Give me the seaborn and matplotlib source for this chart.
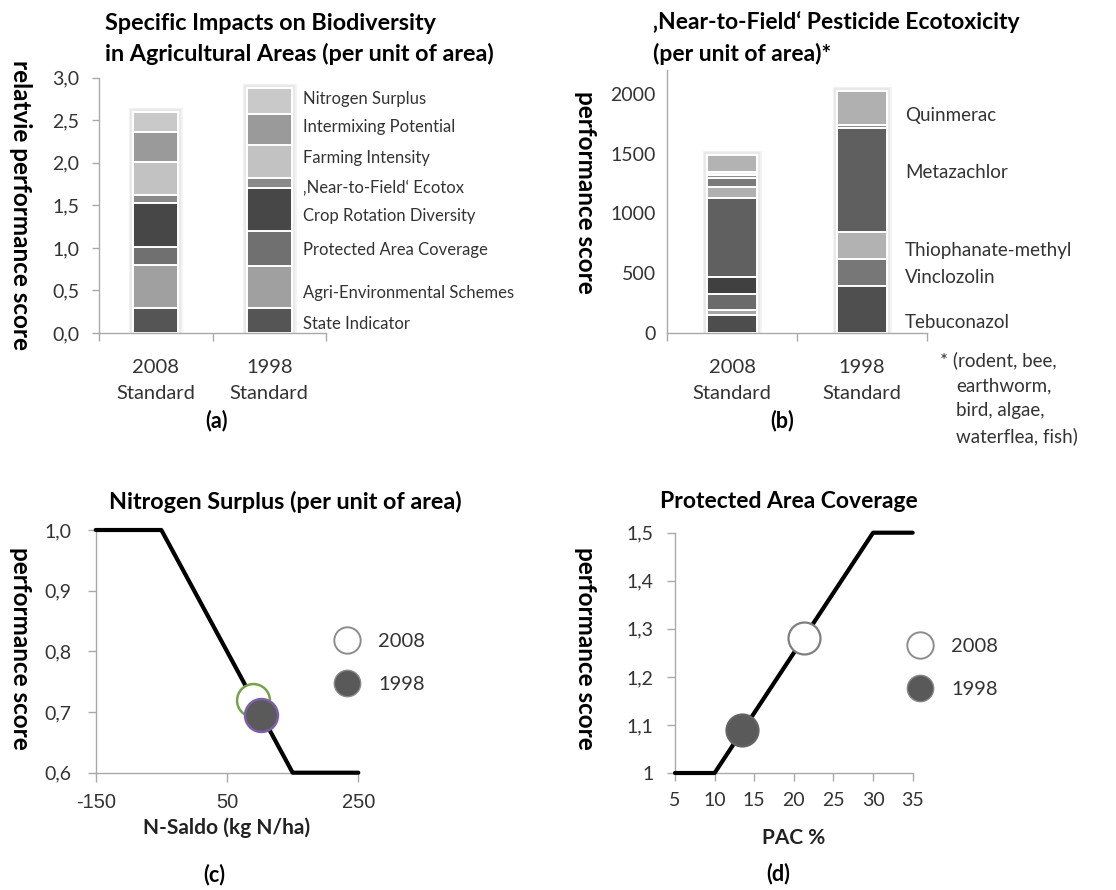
import numpy as np
import matplotlib
matplotlib.use("Agg")
import matplotlib.pyplot as plt
from matplotlib import patheffects as pe
from matplotlib.lines import Line2D
import seaborn as sns

sns.set_theme(style="white")
plt.rcParams["font.family"] = ["Lato", "DejaVu Sans"]

W, H = 1116, 890
SPINE = "#a9a9a9"
TICK_TXT = "#333333"

standards = ["2008\nStandard", "1998\nStandard"]

# (a) specific impacts on biodiversity, stacked bottom to top
indicators = ["State Indicator", "Agri-Environmental Schemes", "Protected Area Coverage",
              "Crop Rotation Diversity", "\u201aNear-to-Field\u2018 Ecotox", "Farming Intensity",
              "Intermixing Potential", "Nitrogen Surplus"]
impact_2008 = [0.29, 0.51, 0.21, 0.52, 0.09, 0.39, 0.35, 0.24]
impact_1998 = [0.29, 0.50, 0.41, 0.50, 0.125, 0.39, 0.36, 0.305]
impact_greys = ["#555555", "#a0a0a0", "#707070", "#474747", "#8a8a8a", "#c2c2c2", "#9a9a9a", "#c9c9c9"]
impact_label_y = [0.10, 0.47, 0.98, 1.37, 1.70, 2.06, 2.42, 2.75]
impact_ticks = [0, 0.5, 1.0, 1.5, 2.0, 2.5, 3.0]
impact_tick_labels = ["0,0", "0,5", "1,0", "1,5", "2,0", "2,5", "3,0"]

# (b) near-to-field pesticide ecotoxicity, stacked bottom to top
ecotox_2008 = [153, 41, 134, 141, 662, 94, 69, 26, 30, 140]
ecotox_2008_greys = ["#4d4d4d", "#a6a6a6", "#6b6b6b", "#404040", "#606060",
                     "#b0b0b0", "#7a7a7a", "#8c8c8c", "#f0f0f0", "#b3b3b3"]
ecotox_1998 = [394, 228, 220, 877, 25, 282]
ecotox_1998_greys = ["#4f4f4f", "#777777", "#b2b2b2", "#5f5f5f", "#8c8c8c", "#b0b0b0"]
pesticides = ["Tebuconazol", "Vinclozolin", "Thiophanate-methyl", "Metazachlor", "Quinmerac"]
pesticide_label_y = [86, 467, 686, 1342, 1817]
ecotox_ticks = [0, 500, 1000, 1500, 2000]
footnote = ["* (rodent, bee,", "earthworm,", "bird, algae,", "waterflea, fish)"]

# (c) nitrogen surplus scoring function
n_saldo = [-150, -50, 150, 250]
n_score = [1.0, 1.0, 0.6, 0.6]
n_ticks = [0.6, 0.7, 0.8, 0.9, 1.0]
n_tick_labels = ["0,6", "0,7", "0,8", "0,9", "1,0"]
n_xticks = [-150, 50, 250]
years = ["2008", "1998"]
n_year_x = [90, 102]
n_year_y = [0.72, 0.695]

# (d) protected area coverage scoring function
pac = [5, 10, 30, 35]
pac_score = [1.0, 1.0, 1.5, 1.5]
pac_ticks = [1.0, 1.1, 1.2, 1.3, 1.4, 1.5]
pac_tick_labels = ["1", "1,1", "1,2", "1,3", "1,4", "1,5"]
pac_xticks = [5, 10, 15, 20, 25, 30, 35]
pac_year_x = [21.3, 13.5]
pac_year_y = [1.28, 1.09]

fig = plt.figure(figsize=(W / 100, H / 100), dpi=100)


def px_axes(left, top, right, bottom):
    return fig.add_axes([left / W, 1 - bottom / H, (right - left) / W, (bottom - top) / H])


def ftext(x, y, s, **kw):
    return fig.text(x / W, 1 - y / H, s, **kw)


def style_axes(ax):
    sns.despine(ax=ax)
    for side in ("left", "bottom"):
        ax.spines[side].set_color(SPINE)
        ax.spines[side].set_linewidth(1.0)
    ax.tick_params(which="both", direction="out", color=SPINE, labelcolor=TICK_TXT, width=1.0)
    ax.set_xlabel("")
    ax.set_ylabel("")


def stack(ax, category, values, greys, width):
    tops = np.cumsum(values)
    # tallest column first, each shorter cumulative column painted over it
    for k in range(len(values) - 1, -1, -1):
        n0 = len(ax.patches)
        sns.barplot(x=[category], y=[tops[k]], order=standards, color=greys[k],
                    width=width, saturation=1, edgecolor="white", linewidth=1.4,
                    errorbar=None, ax=ax, zorder=2)
        if k == len(values) - 1:
            # soft shadow around the whole column
            for p in ax.patches[n0:]:
                p.set_path_effects([pe.Stroke(linewidth=6.5, foreground="#f4f4f4"),
                                    pe.Stroke(linewidth=4.5, foreground="#e9e9e9"),
                                    pe.Normal()])


def category_axis(ax, fontsize):
    ax.set_xlim(-0.5, 1.5)
    ax.set_xticks([0, 1], standards)
    ax.set_xticks([-0.5, 0.5, 1.5], minor=True)
    ax.tick_params(axis="x", which="major", bottom=True, length=0, pad=19, labelsize=fontsize)
    ax.tick_params(axis="x", which="minor", bottom=True, length=6)
    for lbl in ax.get_xticklabels():
        lbl.set_linespacing(1.6)


# ---------------- (a) ----------------
ax1 = px_axes(99, 77.7, 326, 333)
stack(ax1, standards[0], impact_2008, impact_greys, 0.40)
stack(ax1, standards[1], impact_1998, impact_greys, 0.40)
style_axes(ax1)
ax1.set_ylim(0, 3)
ax1.set_yticks(impact_ticks, impact_tick_labels)
ax1.tick_params(axis="y", left=True, length=5, pad=9, labelsize=14)
category_axis(ax1, 14.5)
for name, y in zip(indicators, impact_label_y):
    ax1.text(1.30, y, name, va="center", ha="left", fontsize=12, color="#333333", clip_on=False)

ftext(105, 23, "Specific Impacts on Biodiversity", ha="left", va="center",
      fontsize=16.8, fontweight="bold", color="black")
ftext(105, 54, "in Agricultural Areas (per unit of area)", ha="left", va="center",
      fontsize=16.8, fontweight="bold", color="black")
ftext(20, 205, "relatvie performance score", rotation=270, ha="center", va="center",
      fontsize=17.5, fontweight="bold", color="black")
ftext(216, 421, "(a)", ha="center", va="center", fontsize=15.5, fontweight="bold", color="black")

# ---------------- (b) ----------------
ax2 = px_axes(667, 70, 927, 333)
stack(ax2, standards[0], ecotox_2008, ecotox_2008_greys, 0.38)
stack(ax2, standards[1], ecotox_1998, ecotox_1998_greys, 0.38)
style_axes(ax2)
ax2.set_ylim(0, 2200)
ax2.set_yticks(ecotox_ticks, [str(t) for t in ecotox_ticks])
ax2.tick_params(axis="y", left=False, length=0, pad=8, labelsize=14)
category_axis(ax2, 14.5)
for name, y in zip(pesticides, pesticide_label_y):
    ax2.text(1.33, y, name, va="center", ha="left", fontsize=13.5, color="#333333", clip_on=False)

ftext(653, 22, "\u201aNear-to-Field\u2018 Pesticide Ecotoxicity", ha="left", va="center",
      fontsize=16.5, fontweight="bold", color="black")
ftext(653, 54, "(per unit of area)*", ha="left", va="center",
      fontsize=16.5, fontweight="bold", color="black")
ftext(585, 192, "performance score", rotation=270, ha="center", va="center",
      fontsize=17.5, fontweight="bold", color="black")
ftext(782, 421, "(b)", ha="center", va="center", fontsize=15.5, fontweight="bold", color="black")
for i, line in enumerate(footnote):
    ftext(940 if i == 0 else 956, 360 + 25.5 * i, line, ha="left", va="center",
          fontsize=13.5, color="#333333")

# ---------------- (c) ----------------
ax3 = px_axes(95.7, 530, 358.3, 772.7)
sns.lineplot(x=n_saldo, y=n_score, color="black", linewidth=3.0, ax=ax3, clip_on=False, zorder=3)
sns.scatterplot(x=[n_year_x[0]], y=[n_year_y[0]], s=560, color="white", edgecolor="#78a24a",
                linewidth=1.8, zorder=4, clip_on=False, ax=ax3, legend=False)
sns.scatterplot(x=[n_year_x[1]], y=[n_year_y[1]], s=560, color="#5a5a5a", edgecolor="#7b5fa8",
                linewidth=1.8, zorder=5, clip_on=False, ax=ax3, legend=False)
style_axes(ax3)
ax3.set_xlim(-150, 250)
ax3.set_ylim(0.6, 1.0)
ax3.set_yticks(n_ticks, n_tick_labels)
ax3.set_xticks(n_xticks, [str(t) for t in n_xticks])
ax3.tick_params(axis="y", left=True, length=5.5, pad=12, labelsize=14)
ax3.tick_params(axis="x", bottom=True, length=6.5, pad=8, labelsize=14.5)
for lbl in ax3.get_xticklabels():
    lbl.set_fontfamily(["Liberation Sans", "DejaVu Sans"])

ftext(285, 502, "Nitrogen Surplus (per unit of area)", ha="center", va="center",
      fontsize=16.8, fontweight="bold", color="black")
ftext(20, 648, "performance score", rotation=270, ha="center", va="center",
      fontsize=17.5, fontweight="bold", color="black")
ftext(227, 828, "N-Saldo (kg N/ha)", ha="center", va="center",
      fontsize=15, fontweight="bold", color="#222222")
ftext(214, 875, "(c)", ha="center", va="center", fontsize=15.5, fontweight="bold", color="black")

# ---------------- (d) ----------------
ax4 = px_axes(675, 532.7, 912.7, 773)
sns.lineplot(x=pac, y=pac_score, color="black", linewidth=3.0, ax=ax4, clip_on=False, zorder=3)
sns.scatterplot(x=[pac_year_x[0]], y=[pac_year_y[0]], s=530, color="white", edgecolor="#7f7f7f",
                linewidth=1.6, zorder=4, clip_on=False, ax=ax4, legend=False)
sns.scatterplot(x=[pac_year_x[1]], y=[pac_year_y[1]], s=530, color="#5a5a5a", edgecolor="#636363",
                linewidth=1.6, zorder=5, clip_on=False, ax=ax4, legend=False)
style_axes(ax4)
ax4.set_xlim(5, 35)
ax4.set_ylim(1.0, 1.5)
ax4.set_yticks(pac_ticks, pac_tick_labels)
ax4.set_xticks(pac_xticks, [str(t) for t in pac_xticks])
ax4.tick_params(axis="y", left=True, length=5.5, pad=10, labelsize=14)
ax4.tick_params(axis="x", bottom=True, length=6, pad=8, labelsize=14)

ftext(789, 502, "Protected Area Coverage", ha="center", va="center",
      fontsize=16.5, fontweight="bold", color="black")
ftext(585, 648, "performance score", rotation=270, ha="center", va="center",
      fontsize=17.5, fontweight="bold", color="black")
ftext(794, 838, "PAC %", ha="center", va="center", fontsize=15, fontweight="bold", color="#222222")
ftext(778, 874, "(d)", ha="center", va="center", fontsize=15.5, fontweight="bold", color="black")

# year legends for (c) and (d)
year_handles = [
    Line2D([], [], ls="", marker="o", markersize=19, markerfacecolor="white",
           markeredgecolor="#8c8c8c", markeredgewidth=1.4),
    Line2D([], [], ls="", marker="o", markersize=19, markerfacecolor="#595959",
           markeredgecolor="#8a8a8a", markeredgewidth=1.0),
]
for ax, (lx, ly) in ((ax3, (333, 633)), (ax4, (906, 638))):
    ax.legend(year_handles, years, loc="upper left", bbox_to_anchor=(lx / W, 1 - ly / H),
              bbox_transform=fig.transFigure, frameon=False, fontsize=14.5,
              handlelength=1.4, handletextpad=0.85, labelspacing=1.3, borderpad=0,
              borderaxespad=0, labelcolor="#333333")

fig.savefig("out.png", dpi=100)
